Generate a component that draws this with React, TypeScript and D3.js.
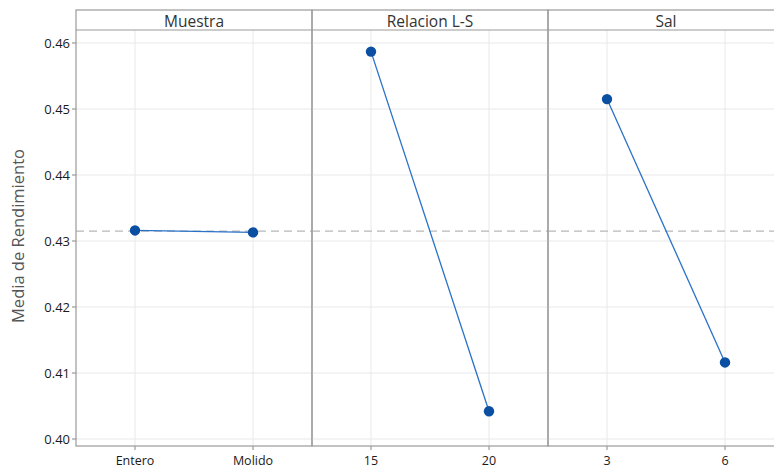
import React from "react";
import * as d3 from "d3";

const panels = ["Muestra", "Relacion L-S", "Sal"];
const levels = [["Entero", "Molido"], ["15", "20"], ["3", "6"]];
const means = [[0.4316, 0.4313], [0.4587, 0.4042], [0.4515, 0.4116]];
const overallMean = 0.4315;
const yTicks = [0.40, 0.41, 0.42, 0.43, 0.44, 0.45, 0.46];

const W = 774, H = 469;
const left = 76, panelW = 236, top = 10, headerH = 20, bottom = 446;

export default function App() {
  const y = d3.scaleLinear().domain([0.40, 0.46]).range([439, 43]);
  const font = "'Open Sans', 'Noto Sans', sans-serif";
  return (
    <svg width={W} height={H} style={{ position: "absolute", left: 0, top: 0, background: "#fff" }}>
      {panels.map((p, i) => {
        const x0 = left + i * panelW;
        const x = d3.scalePoint<string>().domain(levels[i]).range([x0, x0 + panelW]).padding(0.5);
        const line = d3.line<[string, number]>().x(d => x(d[0])!).y(d => y(d[1]));
        const data: [string, number][] = levels[i].map((l, j) => [l, means[i][j]]);
        return (
          <g key={p}>
            {yTicks.map(t => (
              <line key={t} x1={x0} x2={x0 + panelW} y1={y(t)} y2={y(t)} stroke="#e8e8e8" strokeWidth={1} />
            ))}
            {levels[i].map(l => (
              <line key={l} x1={x(l)} x2={x(l)} y1={top + headerH} y2={bottom} stroke="#e8e8e8" strokeWidth={1} />
            ))}
            <line x1={x0} x2={x0 + panelW} y1={y(overallMean)} y2={y(overallMean)} stroke="#b8b8b8" strokeWidth={1.2} strokeDasharray="8,5" />
            <path d={line(data)!} fill="none" stroke="#2a72c8" strokeWidth={1.3} />
            {data.map(d => (
              <circle key={d[0]} cx={x(d[0])} cy={y(d[1])} r={5.2} fill="#0b4fa3" />
            ))}
            {levels[i].map(l => (
              <g key={"t" + l}>
                <line x1={x(l)} x2={x(l)} y1={bottom} y2={bottom + 4} stroke="#888" />
                <text x={x(l)} y={bottom + 19} textAnchor="middle" fontSize={12.5} fill="#1a1a1a" fontFamily={font}>{l}</text>
              </g>
            ))}
            <rect x={x0} y={top} width={panelW} height={bottom - top} fill="none" stroke="#9a9a9a" strokeWidth={1.2} />
            <line x1={x0} x2={x0 + panelW} y1={top + headerH} y2={top + headerH} stroke="#9a9a9a" strokeWidth={1.2} />
            <text x={x0 + panelW / 2} y={top + headerH - 3} textAnchor="middle" fontSize={15.5} fill="#333" fontFamily={font}>{p}</text>
          </g>
        );
      })}
      {yTicks.map(t => (
        <g key={t}>
          <line x1={left - 4} x2={left} y1={y(t)} y2={y(t)} stroke="#888" />
          <text x={left - 6} y={y(t) + 4.5} textAnchor="end" fontSize={13} fill="#1a1a1a" fontFamily={font}>{t.toFixed(2)}</text>
        </g>
      ))}
      <text transform={`translate(24, ${(top + bottom) / 2 + 8}) rotate(-90)`} textAnchor="middle" fontSize={16.5} fill="#555" fontFamily={font}>Media de Rendimiento</text>
    </svg>
  );
}
